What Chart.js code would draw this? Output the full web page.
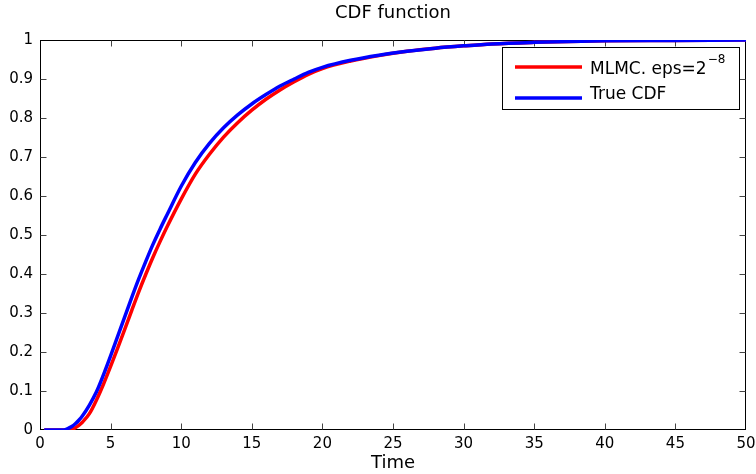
<!DOCTYPE html>
<html>
<head>
<meta charset="utf-8">
<script src="https://cdn.jsdelivr.net/npm/chart.js@4/dist/chart.umd.min.js"></script>
<style>
  html, body { margin: 0; padding: 0; background: #fff; }
  #wrap { width: 756px; height: 474px; position: relative; }
</style>
</head>
<body>
<div id="wrap"><canvas id="c" width="756" height="474"></canvas></div>
<script>
// ---- data ----
const timeValues = [0.3, 1, 1.5, 1.8, 2, 2.25, 2.5, 2.75, 3, 3.5, 4, 4.5, 5, 5.5, 6, 6.5, 7, 7.5, 8, 8.5, 9, 10, 11, 12, 13, 14, 15, 16, 17, 18, 19, 20, 22, 24, 26, 28, 30, 32, 35, 40, 45, 50];
const mlmcValues = [0, 0, 0, 0, 0, 0.002, 0.006, 0.012, 0.02, 0.042, 0.077, 0.118, 0.163, 0.21, 0.258, 0.307, 0.355, 0.4, 0.443, 0.483, 0.521, 0.592, 0.656, 0.707, 0.751, 0.788, 0.82, 0.848, 0.872, 0.893, 0.912, 0.927, 0.946, 0.96, 0.971, 0.979, 0.985, 0.99, 0.994, 0.998, 0.999, 1];
const trueValues = [0, 0, 0, 0.001, 0.004, 0.009, 0.016, 0.025, 0.036, 0.064, 0.098, 0.142, 0.19, 0.24, 0.29, 0.34, 0.388, 0.433, 0.476, 0.515, 0.552, 0.625, 0.686, 0.735, 0.775, 0.808, 0.836, 0.86, 0.882, 0.9, 0.917, 0.93, 0.948, 0.961, 0.971, 0.979, 0.985, 0.99, 0.994, 0.998, 0.999, 1];
const seriesLabels = ["MLMC. eps=2", "True CDF"];
const seriesSup = ["\u22128", ""];
const chartTitle = "CDF function";
const xTitle = "Time";

const FONT = "'DejaVu Sans', 'Liberation Sans', sans-serif";

const toPoints = (xs, ys) => xs.map((x, i) => ({ x: x, y: ys[i] }));

const framePlugin = {
  id: 'frame',
  beforeDatasetsDraw(chart) {
    const { ctx, chartArea: a, scales } = chart;
    const xs = scales.x, ys = scales.y;
    const L = Math.round(a.left) + 0.5, R = Math.round(a.right) - 0.5;
    const T = Math.round(a.top) + 0.5, B = Math.round(a.bottom) - 0.5;
    ctx.save();
    ctx.strokeStyle = '#000';
    ctx.lineWidth = 1;
    ctx.strokeRect(L, T, R - L, B - T);
    const tl = 6;
    ctx.strokeStyle = '#444';
    ctx.beginPath();
    xs.ticks.forEach(t => {
      if (t.value <= xs.min || t.value >= xs.max) return;
      const px = Math.round(xs.getPixelForValue(t.value)) + 0.5;
      ctx.moveTo(px, B); ctx.lineTo(px, B - tl);
      ctx.moveTo(px, T); ctx.lineTo(px, T + tl);
    });
    ys.ticks.forEach(t => {
      if (t.value <= ys.min || t.value >= ys.max) return;
      const py = Math.round(ys.getPixelForValue(t.value)) + 0.5;
      ctx.moveTo(L, py); ctx.lineTo(L + tl, py);
      ctx.moveTo(R, py); ctx.lineTo(R - tl, py);
    });
    ctx.stroke();
    ctx.restore();
  }
};

const legendPlugin = {
  id: 'matlabLegend',
  afterDatasetsDraw(chart) {
    const { ctx, chartArea: a } = chart;
    const left = a.right - 244, right = a.right - 7;
    const top = a.top + 7, bottom = a.top + 69;
    ctx.save();
    ctx.fillStyle = '#fff';
    ctx.fillRect(left, top, right - left, bottom - top);
    ctx.strokeStyle = '#000';
    ctx.lineWidth = 1;
    ctx.strokeRect(Math.round(left) + 0.5, Math.round(top) + 0.5, Math.round(right - left), Math.round(bottom - top));
    const ds = chart.data.datasets;
    const lineYs = [top + 20, top + 51];
    const textYs = [top + 22.5, top + 47.5];
    ds.forEach((d, i) => {
      ctx.strokeStyle = d.borderColor;
      ctx.lineWidth = 3.5;
      ctx.beginPath();
      ctx.moveTo(left + 13, lineYs[i]);
      ctx.lineTo(left + 80, lineYs[i]);
      ctx.stroke();
      ctx.fillStyle = '#000';
      ctx.textBaseline = 'middle';
      ctx.textAlign = 'left';
      ctx.font = '17px ' + FONT;
      ctx.fillText(seriesLabels[i], left + 88, textYs[i]);
      if (seriesSup[i]) {
        const w = ctx.measureText(seriesLabels[i]).width;
        ctx.font = '12px ' + FONT;
        ctx.fillText(seriesSup[i], left + 88 + w + 1, textYs[i] - 10);
      }
    });
    ctx.restore();
  }
};

new Chart(document.getElementById('c'), {
  type: 'line',
  data: {
    datasets: [
      {
        label: seriesLabels[0] + seriesSup[0],
        data: toPoints(timeValues, mlmcValues),
        borderColor: '#ff0000',
        backgroundColor: '#ff0000',
        borderWidth: 3.5,
        pointRadius: 0,
        cubicInterpolationMode: 'monotone',
        order: 1
      },
      {
        label: seriesLabels[1],
        data: toPoints(timeValues, trueValues),
        borderColor: '#0000ff',
        backgroundColor: '#0000ff',
        borderWidth: 3.5,
        pointRadius: 0,
        cubicInterpolationMode: 'monotone',
        order: 0
      }
    ]
  },
  options: {
    responsive: false,
    animation: false,
    devicePixelRatio: 1,
    layout: { padding: { left: 0, right: 10, top: 0, bottom: 0 } },
    plugins: {
      legend: { display: false },
      tooltip: { enabled: false },
      title: {
        display: true,
        text: chartTitle,
        color: '#000',
        fullSize: false,
        font: { family: FONT, size: 18, weight: 'normal' },
        padding: { top: 3, bottom: 15.4 }
      }
    },
    scales: {
      x: {
        type: 'linear',
        min: 0, max: 50,
        ticks: { stepSize: 5, color: '#000', padding: 5, font: { family: FONT, size: 15 }, maxRotation: 0 },
        grid: { drawOnChartArea: false, drawTicks: false },
        border: { display: false },
        title: { display: true, text: xTitle, color: '#000', font: { family: FONT, size: 18 }, padding: { top: 0, bottom: 0 } },
        afterFit(scale) { scale.height = 44; scale.paddingRight = 0; scale.paddingLeft = 0; }
      },
      y: {
        type: 'linear',
        min: 0, max: 1,
        ticks: {
          stepSize: 0.1, color: '#000', padding: 7, font: { family: FONT, size: 15 },
          callback: (v) => String(Number(v.toFixed(1)))
        },
        grid: { drawOnChartArea: false, drawTicks: false },
        border: { display: false },
        afterFit(scale) { scale.width = 40; scale.paddingTop = 0; scale.paddingBottom = 0; }
      }
    }
  },
  plugins: [framePlugin, legendPlugin]
});
</script>
</body>
</html>
